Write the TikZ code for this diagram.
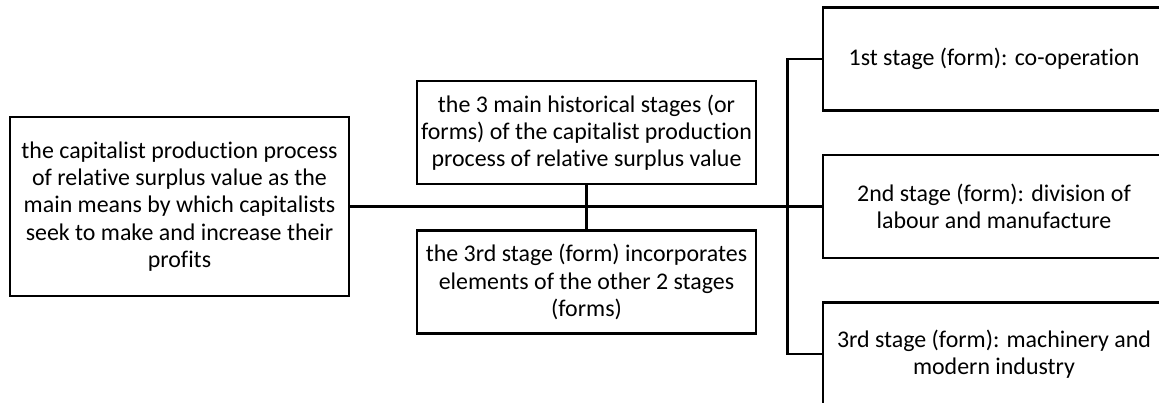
\documentclass[tikz,border=0pt]{standalone}
\usepackage{fontspec}
\setmainfont{Carlito}[Ligatures=NoCommon]
\usepackage{tikz}
\usetikzlibrary{positioning}

\begin{document}
\begin{tikzpicture}[
node distance=0.84cm and 1.36cm,
box/.style={draw, line width=1.5pt, align=center, inner sep=2pt, font=\fontsize{13.6}{15.5}\selectfont},
mainbox/.style={box, minimum width=6.78cm, minimum height=3.58cm},
midbox/.style={box, minimum width=6.78cm, minimum height=2.06cm},
stagebox/.style={box, minimum width=6.84cm, minimum height=2.06cm},
link/.style={line width=1.5pt}
]
\useasboundingbox (0,0) rectangle (23.18,8.06);
\node[mainbox] (process) at (3.59,3.93) {the capitalist production process\\of relative surplus value as the\\main means by which capitalists\\seek to make and increase their\\profits};
\node[midbox] (stages) at (11.73,5.41) {the 3 main historical stages (or\\forms) of the capitalist production\\process of relative surplus value};
\node[midbox, below=0.88cm of stages] (incorp) {the 3rd stage (form) incorporates\\elements of the other 2 stages\\(forms)};
\node[stagebox] (manuf) at (19.88,3.93) {2nd stage (form): division of\\labour and manufacture};
\node[stagebox, above=0.84cm of manuf] (coop) {1st stage (form): co-operation};
\node[stagebox, below=0.84cm of manuf] (industry) {3rd stage (form): machinery and\\modern industry};

\draw[link] (process) -- (manuf);
\draw[link] (stages) -- (incorp);
\draw[link] (coop.west) -- ++(-0.68,0) |- (industry.west);
\end{tikzpicture}
\end{document}
